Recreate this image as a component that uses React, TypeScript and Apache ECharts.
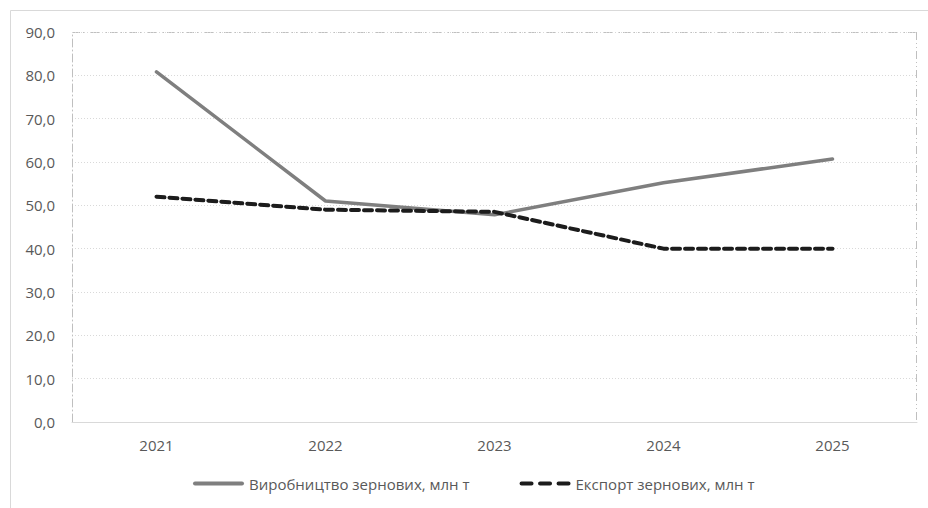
import React, { useEffect, useRef } from "react";
import * as echarts from "echarts";

const years = ["2021", "2022", "2023", "2024", "2025"];
const production = [80.8, 51.0, 47.8, 55.2, 60.7];
const exportVals = [52.0, 49.0, 48.5, 40.0, 40.0];
const productionName = "Виробництво зернових, млн т";
const exportName = "Експорт зернових, млн т";

const FONT = "'Open Sans', 'Noto Sans', sans-serif";

export default function App() {
  const ref = useRef<HTMLDivElement>(null);
  useEffect(() => {
    document.body.style.margin = "0";
    const chart = echarts.init(ref.current!, null, { renderer: "svg" });
    const L = 72, R = 917, T = 32, B = 422;
    chart.setOption({
      animation: false,
      backgroundColor: "#ffffff",
      grid: { left: L, right: 928 - R, top: T, bottom: 508 - B, containLabel: false },
      legend: {
        bottom: 12,
        left: 188,
        itemWidth: 51,
        itemHeight: 4,
        itemGap: 50,
        textStyle: { fontFamily: FONT, fontSize: 15, color: "#595959" },
        data: [
          {
            name: productionName,
            icon: "path://M2,0 H49 A2,2 0 0 1 49,4 H2 A2,2 0 0 1 2,0 Z",
            itemStyle: { color: "#7f7f7f" },
          },
          {
            name: exportName,
            icon:
              "path://M2,0 H12 A2,2 0 0 1 12,4 H2 A2,2 0 0 1 2,0 Z M20.5,0 H30.5 A2,2 0 0 1 30.5,4 H20.5 A2,2 0 0 1 20.5,0 Z M39,0 H49 A2,2 0 0 1 49,4 H39 A2,2 0 0 1 39,0 Z",
            itemStyle: { color: "#1c1c1c" },
          },
        ],
      },
      xAxis: {
        type: "category",
        data: years,
        boundaryGap: true,
        axisLine: { lineStyle: { color: "#d9d9d9", width: 1 } },
        axisTick: { show: false },
        axisLabel: { fontFamily: FONT, fontSize: 15, color: "#595959", margin: 15 },
        splitLine: { show: false },
      },
      yAxis: {
        type: "value",
        min: 0,
        max: 90,
        interval: 10,
        axisLine: { show: true, lineStyle: { color: "#bfbfbf", width: 1, type: [8, 3, 1, 3] } },
        axisTick: { show: false },
        axisLabel: {
          fontFamily: FONT,
          fontSize: 15,
          color: "#595959",
          margin: 17,
          formatter: (v: number) => v.toFixed(1).replace(".", ","),
        },
        splitLine: { show: true, lineStyle: { color: "#d9d9d9", width: 1, type: [1, 2] } },
      },
      graphic: [
        {
          type: "rect",
          shape: { x: 10.5, y: 10.5, width: 960, height: 540 },
          style: { fill: "none", stroke: "#d9d9d9", lineWidth: 1 },
          silent: true,
          z: -1,
        },
        {
          type: "line",
          shape: { x1: L, y1: T + 0.5, x2: R, y2: T + 0.5 },
          style: { stroke: "#bfbfbf", lineWidth: 1, lineDash: [8, 3, 1, 3, 1, 3] },
          silent: true,
        },
        {
          type: "line",
          shape: { x1: R - 0.5, y1: T, x2: R - 0.5, y2: B },
          style: { stroke: "#bfbfbf", lineWidth: 1, lineDash: [8, 3, 1, 3, 1, 3] },
          silent: true,
        },
      ],
      series: [
        {
          name: productionName,
          type: "line",
          data: production,
          symbol: "none",
          lineStyle: { color: "#7f7f7f", width: 3.5, cap: "round" },
          itemStyle: { color: "#7f7f7f" },
          z: 2,
        },
        {
          name: exportName,
          type: "line",
          data: exportVals,
          symbol: "none",
          lineStyle: { color: "#1c1c1c", width: 4, type: [8, 5], cap: "round" },
          itemStyle: { color: "#1c1c1c" },
          z: 3,
        },
      ],
    });
    return () => chart.dispose();
  }, []);
  return <div ref={ref} style={{ position: "fixed", left: 0, top: 0, width: 928, height: 508 }} />;
}
